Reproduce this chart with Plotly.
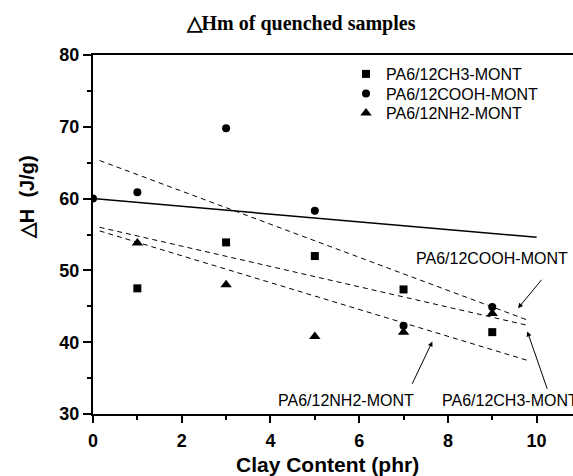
import plotly.graph_objects as go

# ---- data ----
ch3_x = [1, 3, 5, 7, 9]
ch3_y = [47.5, 53.9, 52.0, 47.35, 41.4]
cooh_x = [0, 1, 3, 5, 7, 9]
cooh_y = [60.0, 60.9, 69.8, 58.3, 42.3, 44.9]
nh2_x = [1, 3, 5, 7, 9]
nh2_y = [53.8, 48.0, 40.8, 41.4, 44.0]

# fitted lines (end points)
fit_x = [0.15, 9.83]
cooh_fit = [65.3, 43.0]
ch3_fit = [56.0, 42.3]
nh2_fit = [55.5, 37.4]
solid_x = [0, 10]
solid_y = [60.0, 54.6]

names = ["PA6/12CH3-MONT", "PA6/12COOH-MONT", "PA6/12NH2-MONT"]

FONT = "Liberation Sans, Arial, sans-serif"

fig = go.Figure()
fig.add_trace(go.Scatter(x=solid_x, y=solid_y, mode="lines",
                         line=dict(color="black", width=1.5), showlegend=False, hoverinfo="skip"))
for fy in (cooh_fit, ch3_fit, nh2_fit):
    fig.add_trace(go.Scatter(x=fit_x, y=fy, mode="lines",
                             line=dict(color="black", width=1, dash="5px,4px"),
                             showlegend=False, hoverinfo="skip"))
fig.add_trace(go.Scatter(x=ch3_x, y=ch3_y, mode="markers", name=names[0], legend="legend",
                         marker=dict(symbol="square", size=8, color="black")))
fig.add_trace(go.Scatter(x=cooh_x, y=cooh_y, mode="markers", name=names[1], legend="legend2",
                         marker=dict(symbol="circle", size=8, color="black")))
fig.add_trace(go.Scatter(x=nh2_x, y=nh2_y, mode="markers", name=names[2], legend="legend3",
                         marker=dict(symbol="triangle-up", size=10, color="black")))

ann = []
# label texts
ann.append(dict(x=9.0, y=51.7, xref="x", yref="y", text=names[1], showarrow=False,
                font=dict(family=FONT, size=16, color="black"), xanchor="center", yanchor="middle"))
ann.append(dict(x=7.82, y=31.95, xref="x", yref="y", text=names[0], showarrow=False,
                font=dict(family=FONT, size=16, color="black"), xanchor="left", yanchor="middle"))
ann.append(dict(x=7.29, y=31.95, xref="x", yref="y", text=names[2], showarrow=False,
                font=dict(family=FONT, size=16, color="black"), xanchor="right", yanchor="middle"))
# arrows (head -> tail)
arrows = [((9.58, 44.72), (10.14, 48.9)),
          ((9.79, 41.5), (10.25, 33.3)),
          ((7.65, 40.1), (7.18, 34.0))]
for (hx, hy), (tx, ty) in arrows:
    ann.append(dict(x=hx, y=hy, ax=tx, ay=ty, xref="x", yref="y", axref="x", ayref="y",
                    text="", showarrow=True, arrowhead=2, arrowsize=1, arrowwidth=1,
                    arrowcolor="black"))
# axis titles
ann.append(dict(x=-0.1375, y=0.604, xref="paper", yref="paper", text="△H  (J/g)",
                textangle=-90, showarrow=False, xanchor="center", yanchor="middle",
                font=dict(family=FONT, size=20, color="black", weight="bold")))
ann.append(dict(x=0.4885, y=(414-464)/359, xref="paper", yref="paper", text="Clay Content (phr)",
                showarrow=False, xanchor="center", yanchor="middle",
                font=dict(family=FONT, size=21, color="black", weight="bold")))

leg_common = dict(xanchor="left", yanchor="middle", bgcolor="rgba(0,0,0,0)",
                  font=dict(family=FONT, size=16, color="black"), itemwidth=30)
leg_x = (346-93)/480
fig.update_layout(
    width=573, height=476,
    margin=dict(l=93, r=0, t=55, b=62),
    paper_bgcolor="white", plot_bgcolor="white",
    title=dict(text="<b>△Hm of quenched samples</b>", x=301/573, y=1-23/476,
               xref="container", yref="container", xanchor="center", yanchor="middle",
               font=dict(family="Liberation Serif, Times New Roman, serif", size=20, color="black")),
    annotations=ann,
    legend=dict(x=leg_x, y=(414-74)/359, **leg_common),
    legend2=dict(x=leg_x, y=(414-93.5)/359, **leg_common),
    legend3=dict(x=leg_x, y=(414-113)/359, **leg_common),
    showlegend=True,
)
fig.update_xaxes(range=[0, 10.82], showgrid=False, zeroline=False,
                 showline=True, linecolor="black", linewidth=2, mirror=True,
                 ticks="outside", ticklen=7, tickwidth=1.5, tickcolor="black",
                 tickvals=[0, 2, 4, 6, 8, 10], ticklabelstandoff=2,
                 minor=dict(ticks="outside", ticklen=4, tickwidth=1.5, tickcolor="black", dtick=1),
                 tickfont=dict(family=FONT, size=18, color="black", weight="bold"))
fig.update_yaxes(range=[30, 80], showgrid=False, zeroline=False,
                 showline=True, linecolor="black", linewidth=2,
                 ticks="outside", ticklen=8, tickwidth=1.5, tickcolor="black",
                 tickvals=[30, 40, 50, 60, 70, 80],
                 minor=dict(ticks="outside", ticklen=4, tickwidth=1.5, tickcolor="black", dtick=5),
                 tickfont=dict(family=FONT, size=18, color="black", weight="bold"))

fig.write_html("out.html")
